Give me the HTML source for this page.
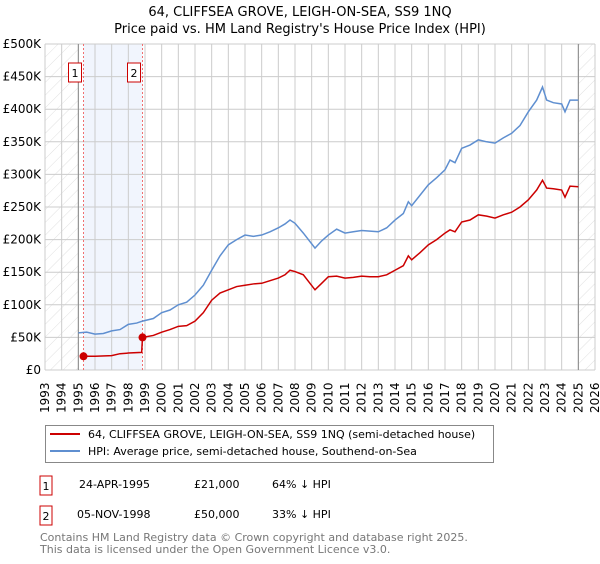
<!DOCTYPE html>
<html><head><meta charset="utf-8"><style>
body{margin:0;background:#fff;width:600px;height:560px;overflow:hidden;font-family:"DejaVu Sans","Liberation Sans",sans-serif}
</style></head><body>
<svg id="chart" width="600" height="560" xmlns="http://www.w3.org/2000/svg" font-family="DejaVu Sans, Liberation Sans, sans-serif">
<defs><pattern id="hatch" width="9" height="9" patternUnits="userSpaceOnUse" patternTransform="rotate(45)"><line x1="0" y1="0" x2="0" y2="9" stroke="#d8d8d8" stroke-width="0.8"/></pattern></defs>
<text x="300" y="16" text-anchor="middle" font-size="13">64, CLIFFSEA GROVE, LEIGH-ON-SEA, SS9 1NQ</text>
<text x="300" y="33" text-anchor="middle" font-size="13">Price paid vs. HM Land Registry's House Price Index (HPI)</text>
<g id="plot"></g>
<g>
<rect x="45.5" y="425.5" width="448" height="37" fill="#fff" stroke="#888"/>
<line x1="50" y1="434" x2="80" y2="434" stroke="#cc0000" stroke-width="2"/>
<text x="88" y="438" font-size="11">64, CLIFFSEA GROVE, LEIGH-ON-SEA, SS9 1NQ (semi-detached house)</text>
<line x1="50" y1="451" x2="80" y2="451" stroke="#5f8fd0" stroke-width="2"/>
<text x="88" y="455" font-size="11">HPI: Average price, semi-detached house, Southend-on-Sea</text>
</g>
<g font-size="11">
<rect x="40" y="476" width="12" height="19" fill="#fff" stroke="#cc0000"/><text x="46" y="490" text-anchor="middle">1</text>
<text x="79" y="488">24-APR-1995</text><text x="194" y="488">£21,000</text><text x="272" y="488">64% ↓ HPI</text>
<rect x="40" y="506" width="12" height="19" fill="#fff" stroke="#cc0000"/><text x="46" y="520" text-anchor="middle">2</text>
<text x="77" y="518">05-NOV-1998</text><text x="194" y="518">£50,000</text><text x="272" y="518">33% ↓ HPI</text>
</g>
<text x="40" y="541" font-size="11" fill="#777">Contains HM Land Registry data © Crown copyright and database right 2025.</text>
<text x="40" y="553" font-size="11" fill="#777">This data is licensed under the Open Government Licence v3.0.</text>
</svg>
<script>
const hpiYears=[1995.0,1995.5,1996,1996.5,1997,1997.5,1998,1998.5,1998.85,1999.5,2000,2000.5,2001,2001.5,2002,2002.5,2003,2003.5,2004,2004.5,2005,2005.5,2006,2006.5,2007,2007.4,2007.7,2008,2008.5,2009.2,2009.6,2010,2010.5,2011,2011.5,2012,2012.5,2013,2013.5,2014,2014.5,2014.8,2015,2015.5,2016,2016.5,2017,2017.3,2017.6,2018,2018.5,2019,2019.5,2020,2020.5,2021,2021.5,2022,2022.5,2022.85,2023.1,2023.5,2024,2024.2,2024.5,2025.0];
const hpiValues=[57,58,55,56,60,62,70,72,75,79,88,92,100,104,115,130,153,175,192,200,207,205,207,212,218,224,230,225,210,187,198,207,216,210,212,214,213,212,218,230,240,258,252,268,284,295,307,322,318,340,345,353,350,348,356,363,375,396,414,434,414,410,408,396,414,414];
const redYears=[1995.31,1996,1997,1997.5,1998,1998.8,1998.85,1999.5,2000,2000.5,2001,2001.5,2002,2002.5,2003,2003.5,2004,2004.5,2005,2005.5,2006,2006.5,2007,2007.4,2007.7,2008,2008.5,2009.2,2009.6,2010,2010.5,2011,2011.5,2012,2012.5,2013,2013.5,2014,2014.5,2014.8,2015,2015.5,2016,2016.5,2017,2017.3,2017.6,2018,2018.5,2019,2019.5,2020,2020.5,2021,2021.5,2022,2022.5,2022.85,2023.1,2023.5,2024,2024.2,2024.5,2025.0];
const redValues=[21,21,22,25,26,27,50,53,58,62,67,68,75,88,107,118,123,128,130,132,133,137,141,146,153,151,146,123,133,143,144,141,142,144,143,143,146,153,160,175,169,180,192,200,210,215,212,227,230,238,236,233,238,242,250,261,276,291,279,278,276,265,282,281];
const saleYears=[1995.31,1998.85];
const saleValues=[21,50];
const yTicks=[0,50,100,150,200,250,300,350,400,450,500];
const yTickLabels=["£0","£50K","£100K","£150K","£200K","£250K","£300K","£350K","£400K","£450K","£500K"];
const xStart=1993,xEnd=2026;
const X=y=>45+(y-xStart)*550/(xEnd-xStart);
const Y=v=>370-v*326/500;
const NS="http://www.w3.org/2000/svg";
const g=document.getElementById('plot');
function mk(t,a,p){const e=document.createElementNS(NS,t);for(const k in a)e.setAttribute(k,a[k]);(p||g).appendChild(e);return e;}
let e;
e=mk('rect',{x:X(1993),y:Y(500),width:X(1995)-X(1993),height:Y(0)-Y(500),fill:'url(#hatch)'});


e=mk('rect',{x:X(2025),y:Y(500),width:X(2026)-X(2025),height:Y(0)-Y(500),fill:'url(#hatch)'});


e=mk('rect',{x:X(saleYears[0]),y:Y(500),width:X(saleYears[1])-X(saleYears[0]),height:Y(0)-Y(500),fill:'#f1f5fd'});


for(let yr=xStart;yr<=xEnd;yr++){
e=mk('line',{x1:X(yr),x2:X(yr),y1:Y(0),y2:Y(500),stroke:'#ccc'});


e=mk('text',{transform:`translate(${X(yr)+4},413) rotate(-90)`,'font-size':'12'});
e.textContent=yr;


}
yTicks.forEach((v,i)=>{
e=mk('line',{x1:X(xStart),x2:X(xEnd),y1:Y(v),y2:Y(v),stroke:'#ccc'});


e=mk('text',{x:41,y:Y(v)+4,'text-anchor':'end','font-size':'12'});
e.textContent=yTickLabels[i];


});
e=mk('line',{x1:X(1995),x2:X(1995),y1:Y(0),y2:Y(500),stroke:'#888'});


e=mk('line',{x1:X(2025),x2:X(2025),y1:Y(0),y2:Y(500),stroke:'#888'});


saleYears.forEach((s,i)=>{
e=mk('line',{x1:X(s),x2:X(s),y1:Y(0),y2:Y(500),stroke:'#f07070','stroke-dasharray':'2,2'});


});
e=mk('polyline',{points:hpiYears.map((y,i)=>X(y)+','+Y(hpiValues[i])).join(' '),fill:'none',stroke:'#5f8fd0','stroke-width':1.5});


e=mk('polyline',{points:redYears.map((y,i)=>X(y)+','+Y(redValues[i])).join(' '),fill:'none',stroke:'#cc0000','stroke-width':1.5});


saleYears.forEach((s,i)=>{
e=mk('circle',{cx:X(s),cy:Y(saleValues[i]),r:4,fill:'#cc0000'});


e=mk('rect',{x:X(s)-15,y:63,width:13,height:19,fill:'#fff',stroke:'#cc0000'});


e=mk('text',{x:X(s)-8.5,y:77,'text-anchor':'middle','font-size':'11'});
e.textContent=String(i+1);


});
</script>
</body></html>
